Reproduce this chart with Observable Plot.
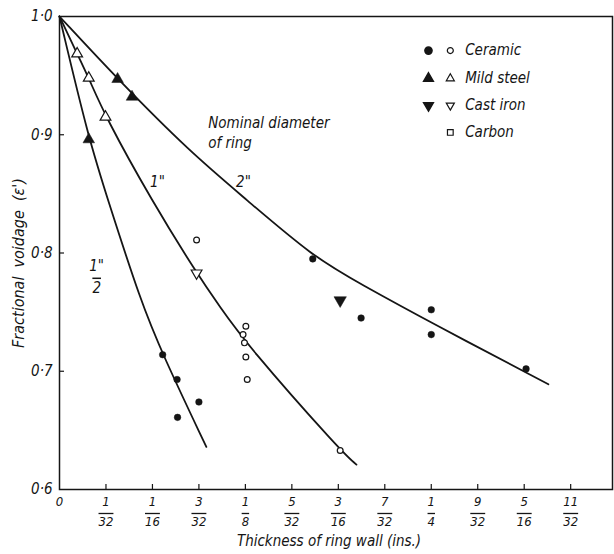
<!DOCTYPE html>
<html><head><meta charset="utf-8">
<script src="https://cdn.jsdelivr.net/npm/d3@7"></script>
<script src="https://cdn.jsdelivr.net/npm/@observablehq/plot@0.6"></script>
<style>
html,body{margin:0;padding:0;background:#fff;}
#chart svg{font-family:"DejaVu Sans Condensed","DejaVu Sans",sans-serif;font-style:italic;}
</style></head><body><div id="chart"></div>
<script>
// x values are in 32nds of an inch
const xTicks = [0,1,2,3,4,5,6,7,8,9,10,11];
const xTickLabels = ["0","1/32","1/16","3/32","1/8","5/32","3/16","7/32","1/4","9/32","5/16","11/32"];
const yTicks = [0.6,0.7,0.8,0.9,1.0];
const yTickLabels = ["0·6","0·7","0·8","0·9","1·0"];

// fitted curves (nominal ring diameter)
const curveHalfX = [0,0.63,1.05,1.74,2.22,3.16];
const curveHalfY = [1.0,0.896,0.844,0.760,0.714,0.636];
const curveOneX = [0,0.38,0.63,0.99,1.99,2.95,3.46,4.0,6.04,6.39];
const curveOneY = [1.0,0.9685,0.948,0.915,0.844,0.783,0.754,0.724,0.633,0.621];
const curveTwoX = [0,1.25,2.82,4.0,5.45,6.47,8.0,10.52];
const curveTwoY = [1.0,0.947,0.885,0.846,0.797,0.774,0.741,0.689];

// measured points
const ceramicFilledX = [2.22,2.53,2.54,3.0,5.45,6.49,8.0,8.0,10.04];
const ceramicFilledY = [0.714,0.693,0.661,0.674,0.795,0.745,0.752,0.731,0.702];
const ceramicOpenX = [2.95,4.01,3.95,3.98,4.01,4.04,6.04];
const ceramicOpenY = [0.811,0.738,0.731,0.724,0.712,0.693,0.633];
const steelFilledX = [0.63,1.25,1.56];
const steelFilledY = [0.896,0.947,0.932];
const steelOpenX = [0.38,0.63,0.99];
const steelOpenY = [0.9685,0.948,0.915];
const castFilledX = [6.04];
const castFilledY = [0.760];
const castOpenX = [2.95];
const castOpenY = [0.783];

// legend
const legendNames = ["Ceramic","Mild steel","Cast iron","Carbon"];
const legendFilled = ["circle","triangle","triangleDown",null];
const legendOpen = ["circle","triangle","triangleDown","square"];
const legendY = [0.9712,0.9476,0.9248,0.9020];
const legendX = [7.94,8.41,8.73];

// annotations
const noteTexts = ["Nominal diameter","of ring","2\"","1\""];
const noteX = [3.2,3.2,3.8,1.95];
const noteY = [0.9095,0.8925,0.860,0.860];
const halfLabel = ["1\"", "2"];
const halfX = 0.8;
const halfY = 0.798;

const triangleDown = {
  draw(context, size) {
    const y = -Math.sqrt(size / (Math.sqrt(3) * 3));
    context.moveTo(0, -y * 2);
    context.lineTo(-Math.sqrt(3) * y, y);
    context.lineTo(Math.sqrt(3) * y, y);
    context.closePath();
  }
};
const symbolOf = s => s === "triangleDown" ? triangleDown : s;

const zip = (xs, ys) => xs.map((x, i) => ({x, y: ys[i]}));

const W = 614, H = 554;
const marginLeft = 59, marginRight = 2, marginTop = 16, marginBottom = 65;
const plotW = W - marginLeft - marginRight;
const plotH = H - marginTop - marginBottom;

const ink = "#151515";
const curveOpts = {x: "x", y: "y", curve: "basis", stroke: ink, strokeWidth: 1.8};
const filled = (sym, r) => ({x: "x", y: "y", r, symbol: sym, fill: ink, stroke: ink, strokeWidth: 0.5});
const open = (sym, r) => ({x: "x", y: "y", r, symbol: sym, fill: "white", stroke: ink, strokeWidth: 1.2});

const legendRows = legendNames.map((n, i) => ({name: n, f: legendFilled[i], o: legendOpen[i], y: legendY[i]}));

const svg = Plot.plot({
  width: W, height: H, marginLeft, marginRight, marginTop, marginBottom,
  style: {fontFamily: "'DejaVu Sans Condensed','DejaVu Sans',sans-serif", fontStyle: "italic", fontSize: "14px", background: "#fff", color: ink},
  x: {domain: [0, 11.9], axis: null},
  y: {domain: [0.6, 1.0], axis: null},
  marks: [
    Plot.frame({stroke: ink, strokeWidth: 1.5}),
    Plot.tickX(xTicks.slice(1), {x: d => d, stroke: ink, strokeWidth: 1.2, insetTop: plotH - 5}),
    Plot.tickY(yTicks.slice(1, -1), {y: d => d, stroke: ink, strokeWidth: 1.2, insetRight: plotW - 5}),
    Plot.axisX({ticks: xTicks, tickSize: 0, tickPadding: 3, fontSize: 13, lineHeight: 1.5, label: null,
      tickFormat: d => xTickLabels[xTicks.indexOf(d)].replace("/", "\n")}),
    Plot.axisY({ticks: yTicks, tickSize: 0, tickPadding: 7, fontSize: 15, label: null,
      tickFormat: d => yTickLabels[yTicks.findIndex(t => Math.abs(t - d) < 1e-9)]}),
    Plot.text(["Fractional  voidage  (ε')"], {frameAnchor: "left", textAnchor: "middle", rotate: -90, dx: -41, dy: 10, fontSize: 16}),
    Plot.text(["Thickness of ring wall (ins.)"], {frameAnchor: "bottom", textAnchor: "middle", dx: -7, dy: 56, fontSize: 15}),
    Plot.line(zip(curveHalfX, curveHalfY), curveOpts),
    Plot.line(zip(curveOneX, curveOneY), curveOpts),
    Plot.line(zip(curveTwoX, curveTwoY), curveOpts),
    Plot.dot(zip(ceramicFilledX, ceramicFilledY), filled("circle", 3.3)),
    Plot.dot(zip(ceramicOpenX, ceramicOpenY), open("circle", 2.9)),
    Plot.dot(zip(steelFilledX, steelFilledY), filled("triangle", 4.3)),
    Plot.dot(zip(steelOpenX, steelOpenY), open("triangle", 4.0)),
    Plot.dot(zip(castFilledX, castFilledY), filled(triangleDown, 4.6)),
    Plot.dot(zip(castOpenX, castOpenY), open(triangleDown, 4.0)),
    Plot.text(noteTexts.map((t, i) => ({t, x: noteX[i], y: noteY[i]})), {x: "x", y: "y", text: "t", textAnchor: "start", fontSize: 15}),
    Plot.text([{x: halfX, y: halfY}], {x: "x", y: "y", text: () => halfLabel.join("\n"), lineAnchor: "top", lineHeight: 1.45, fontSize: 15}),
    // legend
    Plot.dot(legendRows.filter(d => d.f), {x: () => legendX[0], y: "y", symbol: d => symbolOf(d.f), r: 3.6, fill: ink, stroke: ink}),
    Plot.dot(legendRows, {x: () => legendX[1], y: "y", symbol: d => symbolOf(d.o), r: d => d.o === "square" ? 3.7 : 3.2, fill: "white", stroke: ink, strokeWidth: 1.2}),
    Plot.text(legendRows, {x: () => legendX[2], y: "y", text: "name", textAnchor: "start", fontSize: 15})
  ]
});
document.getElementById("chart").append(svg);

// fraction bars: overline the denominators of the stacked fractions
d3.select(svg).selectAll("text tspan:nth-child(2)").style("text-decoration", "overline");
</script>
</body></html>
